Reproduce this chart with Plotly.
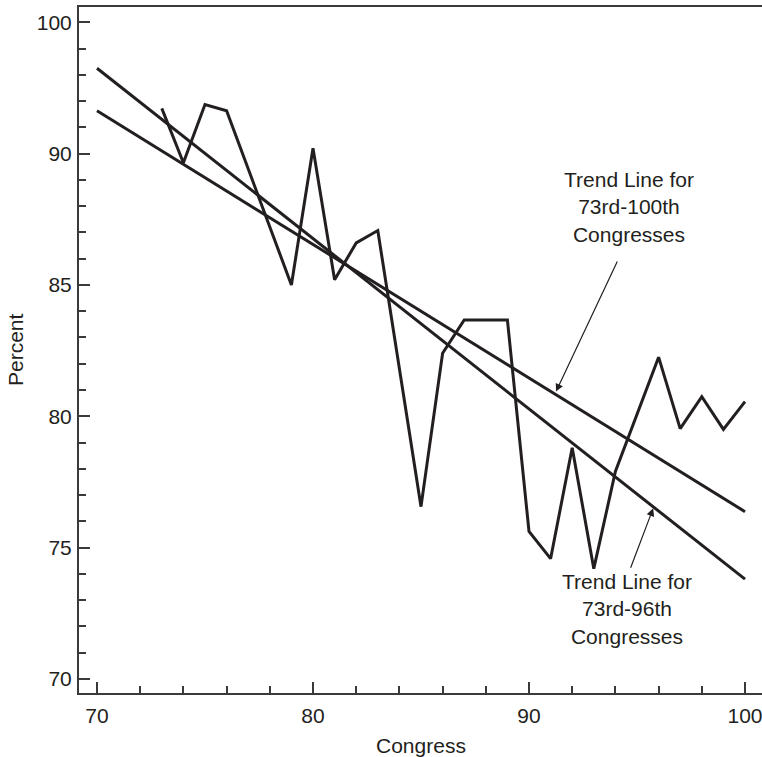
import plotly.graph_objects as go

# Share of votes by Congress
congress = [73, 74, 75, 76, 79, 80, 81, 82, 83, 85, 86, 87, 89, 90, 91, 92, 93, 94, 96, 97, 98, 99, 100]
percent = [91.72, 89.65, 91.87, 91.63, 85.0, 90.2, 85.2, 86.6, 87.07, 76.56, 82.4, 83.67, 83.67,
           75.62, 74.58, 78.8, 74.2, 77.9, 82.25, 79.53, 80.75, 79.5, 80.56]

# Trend line endpoints
trend_x = [70, 100]
trend_73_100 = [91.63, 76.37]
trend_73_96 = [93.25, 73.8]

# Axis ticks (top major tick is labelled 100)
y_tickvals = [70, 75, 80, 85, 90, 95]
y_ticktext = ["70", "75", "80", "85", "90", "100"]
x_tickvals = [70, 80, 90, 100]
x_ticktext = ["70", "80", "90", "100"]

INK = "#231f20"
AXIS = "#3a3a3a"
FONT = "Liberation Sans, Arial, sans-serif"
FS = 21

fig = go.Figure()
fig.add_trace(go.Scatter(x=congress, y=percent, mode="lines",
                         line=dict(color=INK, width=3), showlegend=False))
fig.add_trace(go.Scatter(x=trend_x, y=trend_73_100, mode="lines",
                         line=dict(color=INK, width=3), showlegend=False))
fig.add_trace(go.Scatter(x=trend_x, y=trend_73_96, mode="lines",
                         line=dict(color=INK, width=3), showlegend=False))

annotations = [
    dict(x=94.64, y=87.98, xref="x", yref="y", showarrow=False,
         text="Trend Line for<br>73rd-100th<br>Congresses",
         font=dict(size=FS, color=INK, family=FONT), align="center"),
    dict(x=94.52, y=72.65, xref="x", yref="y", showarrow=False,
         text="Trend Line for<br>73rd-96th<br>Congresses",
         font=dict(size=FS, color=INK, family=FONT), align="center"),
    dict(x=91.25, y=80.94, ax=94.12, ay=85.95, xref="x", yref="y", axref="x", ayref="y",
         text="", showarrow=True, arrowhead=2, arrowsize=1.3, arrowwidth=1.2, arrowcolor=INK),
    dict(x=95.75, y=76.5, ax=94.68, ay=74.18, xref="x", yref="y", axref="x", ayref="y",
         text="", showarrow=True, arrowhead=2, arrowsize=1.3, arrowwidth=1.2, arrowcolor=INK),
    dict(x=0.5, y=-0.076, xref="paper", yref="paper", showarrow=False, text="Congress",
         font=dict(size=FS, color=INK, family=FONT), xanchor="center", yanchor="middle"),
    dict(x=-0.0937, y=0.5, xref="paper", yref="paper", showarrow=False, text="Percent",
         textangle=-90, font=dict(size=FS, color=INK, family=FONT),
         xanchor="center", yanchor="middle"),
]

fig.update_layout(
    width=762, height=757,
    margin=dict(l=79, r=0, t=7, b=64),
    paper_bgcolor="white", plot_bgcolor="white",
    font=dict(family=FONT, size=FS, color=INK),
    annotations=annotations,
    xaxis=dict(range=[69.167, 100.787], tickmode="array", tickvals=x_tickvals, ticktext=x_ticktext,
               ticks="inside", ticklen=11, tickwidth=1.5, tickcolor=AXIS,
               minor=dict(dtick=2, tick0=70, ticks="inside", ticklen=7, tickwidth=1.5, tickcolor=AXIS),
               showline=True, linecolor=AXIS, linewidth=2, mirror=True,
               showgrid=False, zeroline=False, tickfont=dict(size=FS, color=INK),
               ticklabelstandoff=3, ticklabeloverflow="allow"),
    yaxis=dict(range=[69.467, 95.58], tickmode="array", tickvals=y_tickvals, ticktext=y_ticktext,
               ticks="inside", ticklen=11, tickwidth=1.5, tickcolor=AXIS,
               minor=dict(dtick=1, tick0=70, ticks="inside", ticklen=7, tickwidth=1.5, tickcolor=AXIS),
               showline=True, linecolor=AXIS, linewidth=2, mirror=False,
               showgrid=False, zeroline=False, tickfont=dict(size=FS, color=INK),
               ticklabelstandoff=1),
)

fig.write_html("out.html")
